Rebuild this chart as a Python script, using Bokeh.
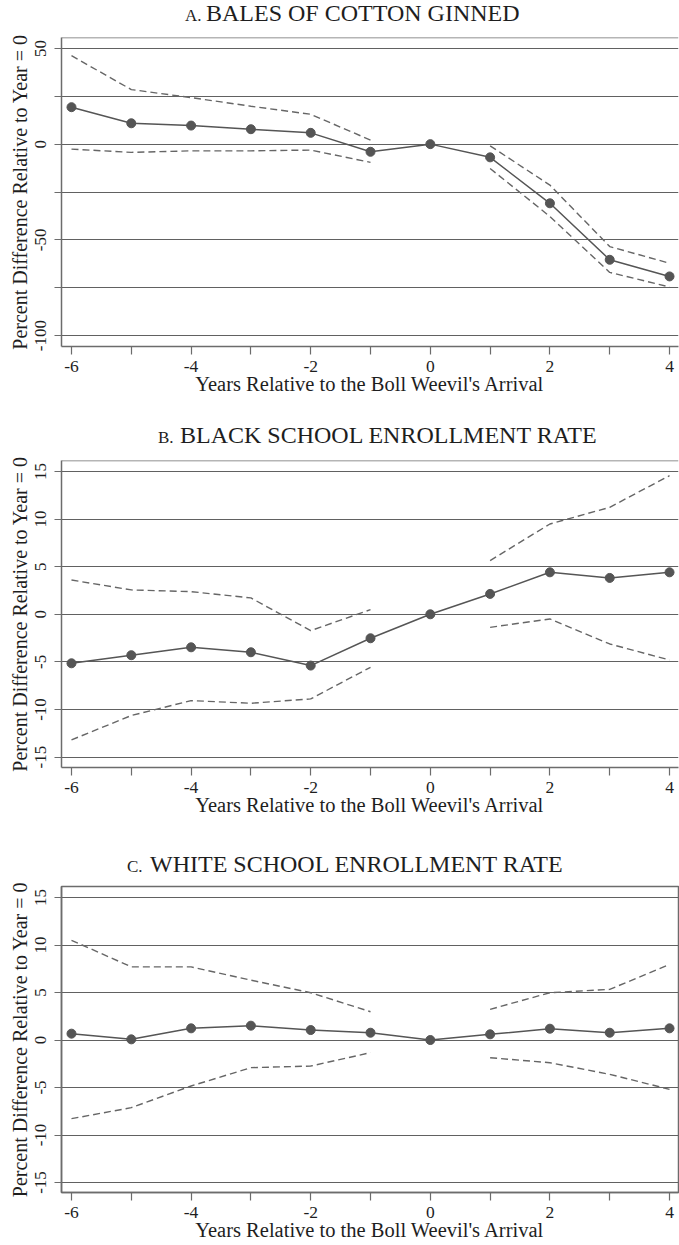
import numpy as np
from bokeh.plotting import figure
from bokeh.layouts import column
from bokeh.models import FixedTicker, Span, Div
from bokeh.embed import file_html
from bokeh.resources import INLINE

NAN = float("nan")

# ---------------- data ----------------
years = [-6, -5, -4, -3, -2, -1, 0, 1, 2, 3, 4]

cotton_est = [19.3, 10.9, 9.7, 7.8, 5.9, -4.0, 0.0, -6.9, -30.9, -60.4, -69.1]
cotton_hi = [46.2, 28.5, 24.3, 19.8, 15.6, 2.1, NAN, -0.9, -21.4, -53.5, -62.2]
cotton_lo = [-2.6, -4.3, -3.5, -3.5, -3.1, -9.5, NAN, -12.7, -37.8, -67.0, -74.6]

black_est = [-5.15, -4.3, -3.47, -3.99, -5.39, -2.52, 0.0, 2.14, 4.41, 3.82, 4.41]
black_hi = [3.6, 2.56, 2.38, 1.72, -1.72, 0.49, NAN, 5.64, 9.49, 11.24, 14.57]
black_lo = [-13.2, -10.64, -9.07, -9.35, -8.89, -5.57, NAN, -1.37, -0.49, -3.12, -4.8]

white_est = [0.67, 0.07, 1.23, 1.51, 1.05, 0.77, 0.0, 0.6, 1.19, 0.77, 1.23]
white_hi = [10.5, 7.7, 7.7, 6.3, 4.98, 2.98, NAN, 3.23, 4.98, 5.33, 7.96]
white_lo = [-8.28, -7.12, -4.84, -2.91, -2.74, -1.33, NAN, -1.86, -2.39, -3.61, -5.19]

panel_letters = ["A.", "B.", "C."]
panel_titles = ["BALES OF COTTON GINNED", "BLACK SCHOOL ENROLLMENT RATE",
                "WHITE SCHOOL ENROLLMENT RATE"]

x_major_ticks = [-6, -4, -2, 0, 2, 4]
x_tick_labels = ["-6", "-4", "-2", "0", "2", "4"]
x_minor_ticks = [-5, -3, -1, 1, 3]
cotton_major_ticks = [-100, -50, 0, 50]
cotton_tick_labels = ["-100", "-50", "0", "50"]
cotton_minor_ticks = [-75, -25, 25]
enroll_major_ticks = [-15, -10, -5, 0, 5, 10, 15]
enroll_tick_labels = ["-15", "-10", "-5", "0", "5", "10", "15"]

x_label = "Years Relative to the Boll Weevil's Arrival"
y_label = "Percent Difference Relative to Year = 0"

# ---------------- style ----------------
FONT = "Liberation Serif"
FRAME = "#6c6c6c"
GRID = "#616161"
SERIES = "#555555"
CI = "#666666"
TEXT = "#1e1e1e"
W = 679
BORDER_LEFT = 61
LETTER_SIZE = 17
MAIN_SIZE = 24


def title_div(idx, height, letter_x, main_x, baseline):
    letter_top = baseline - 0.8375 * LETTER_SIZE
    main_top = baseline - 0.8375 * MAIN_SIZE
    html = (
        f'<div style="position:relative;width:{W}px;height:{height}px;'
        f"font-family:'{FONT}',serif;color:{TEXT};white-space:nowrap;\">"
        f'<span style="position:absolute;left:{letter_x}px;top:{letter_top:.1f}px;'
        f'font-size:{LETTER_SIZE}px;line-height:1;">{panel_letters[idx]}</span>'
        f'<span style="position:absolute;left:{main_x}px;top:{main_top:.1f}px;'
        f'font-size:{MAIN_SIZE}px;line-height:1;">{panel_titles[idx]}</span></div>'
    )
    return Div(text=html, width=W, height=height, margin=0)


def panel(est, hi, lo, y_range, major, major_labels, minor, height, top, bottom,
          full_outline):
    p = figure(width=W, height=height, x_range=(-6.167, 4.15), y_range=y_range,
               output_backend="svg", toolbar_location=None, title=None,
               min_border_left=BORDER_LEFT, min_border_right=1,
               min_border_top=top, min_border_bottom=bottom,
               background_fill_color="white", border_fill_color="white")

    p.xaxis.ticker = FixedTicker(ticks=x_major_ticks, minor_ticks=x_minor_ticks)
    p.yaxis.ticker = FixedTicker(ticks=major, minor_ticks=minor)
    p.xaxis.major_label_overrides = dict(zip(x_major_ticks, x_tick_labels))
    p.yaxis.major_label_overrides = dict(zip(major, major_labels))
    for ax in (p.xaxis[0], p.yaxis[0]):
        ax.axis_line_color = FRAME
        ax.axis_line_width = 1.5
        ax.major_tick_line_color = FRAME
        ax.minor_tick_line_color = FRAME
        ax.major_tick_line_width = 1.2
        ax.minor_tick_line_width = 1.2
        ax.major_tick_in = 0
        ax.minor_tick_in = 0
        ax.major_label_text_font = FONT
        ax.major_label_text_color = TEXT
        ax.axis_label_text_font = FONT
        ax.axis_label_text_font_style = "normal"
        ax.axis_label_text_color = TEXT
    p.xaxis.axis_label_text_font_size = "20.5px"
    p.yaxis.axis_label_text_font_size = "20px"
    p.xaxis.major_label_text_font_size = "17.5px"
    p.yaxis.major_label_text_font_size = "17px"
    p.xaxis.major_tick_out = 8
    p.xaxis.minor_tick_out = 8
    p.xaxis.major_label_standoff = 6
    p.xaxis.axis_label_standoff = -2
    p.yaxis.major_tick_out = 7
    p.yaxis.minor_tick_out = 7
    p.yaxis.major_label_standoff = 8
    p.yaxis.axis_label_standoff = 2
    p.yaxis.major_label_orientation = "vertical"
    p.xaxis.axis_label = x_label
    p.yaxis.axis_label = y_label

    p.xgrid.grid_line_color = None
    p.ygrid.grid_line_color = GRID
    p.ygrid.grid_line_width = 1
    p.ygrid.minor_grid_line_color = GRID
    p.ygrid.minor_grid_line_width = 1

    if full_outline:
        p.outline_line_color = FRAME
        p.outline_line_width = 1.5
    else:
        p.outline_line_color = None
        p.add_layout(Span(location=y_range[1], dimension="width",
                          line_color=FRAME, line_width=1.5))

    x = np.array(years, dtype=float)
    p.line(x, np.array(hi, dtype=float), line_color=CI, line_width=1.4, line_dash="7 4")
    p.line(x, np.array(lo, dtype=float), line_color=CI, line_width=1.4, line_dash="7 4")
    p.line(x, np.array(est, dtype=float), line_color=SERIES, line_width=1.5)
    p.scatter(x, np.array(est, dtype=float), size=9, marker="circle",
              fill_color=SERIES, line_color=SERIES)
    return p


ta = title_div(0, 30, 185, 206, 21)
pa = panel(cotton_est, cotton_hi, cotton_lo, (-105.7, 55.7),
           cotton_major_ticks, cotton_tick_labels, cotton_minor_ticks,
           390, 7, 74, False)
tb = title_div(1, 32, 158, 180, 23)
pb = panel(black_est, black_hi, black_lo, (-16.1, 16.16),
           enroll_major_ticks, enroll_tick_labels, [],
           393, 8, 78, False)
tc = title_div(2, 33, 127, 150, 27)
pc = panel(white_est, white_hi, white_lo, (-16.05, 16.16),
           enroll_major_ticks, enroll_tick_labels, [],
           367, 8, 53, True)

layout = column(ta, pa, tb, pb, tc, pc, spacing=0)

with open("out.html", "w") as f:
    f.write(file_html(layout, INLINE))
